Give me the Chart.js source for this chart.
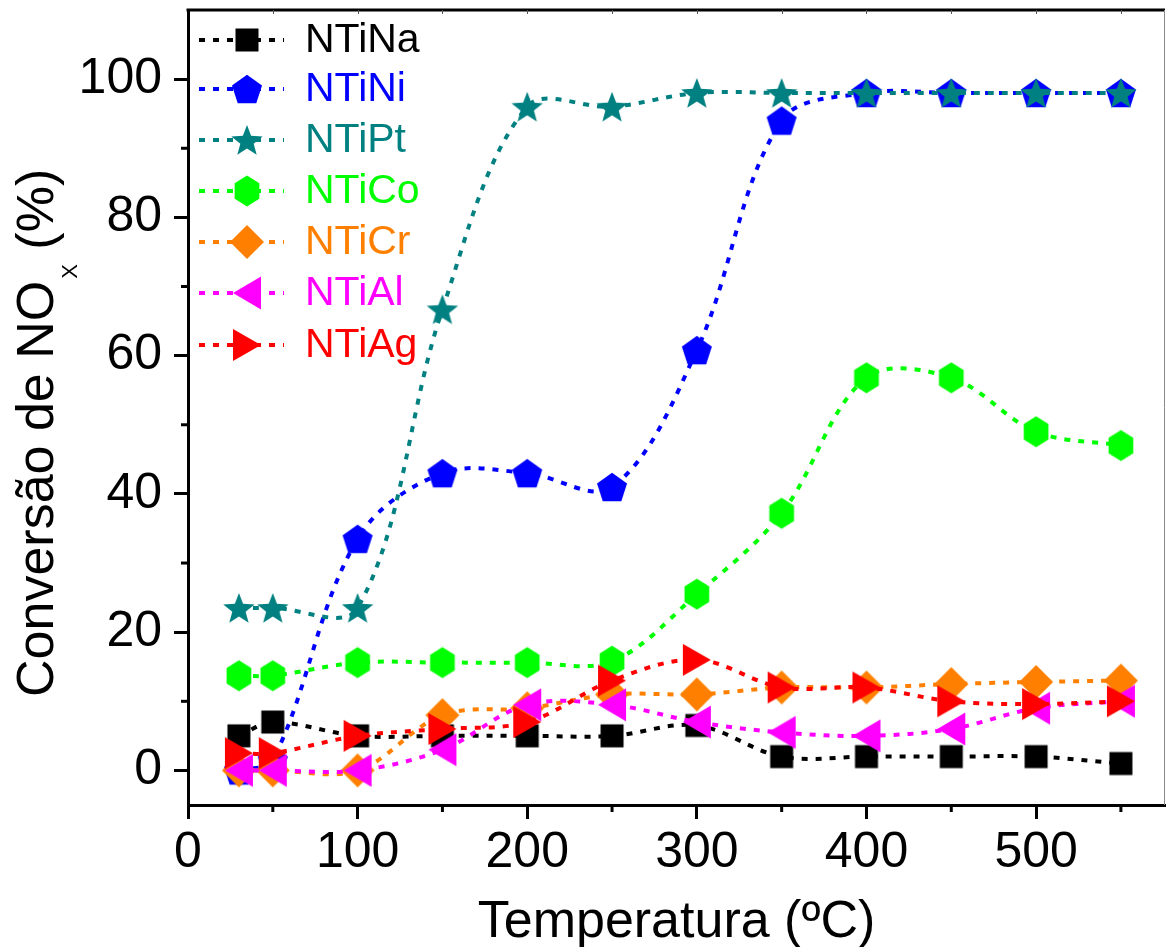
<!DOCTYPE html>
<html><head><meta charset="utf-8">
<script src="https://cdn.jsdelivr.net/npm/chart.js@4.4.1/dist/chart.umd.min.js"></script>
<style>html,body{margin:0;padding:0;background:#fff;}#wrap{width:1167px;height:947px;position:relative;}</style>
</head><body><div id="wrap"><canvas id="c" width="1167" height="947"></canvas></div>
<script>
// ---- data ----
const temperatures = [30, 50, 100, 150, 200, 250, 300, 350, 400, 450, 500, 550];
const seriesNames = ['NTiNa', 'NTiNi', 'NTiPt', 'NTiCo', 'NTiCr', 'NTiAl', 'NTiAg'];
const NTiNa = [5, 7, 5, 5, 5, 5, 6.5, 2, 2, 2, 2, 1];
const NTiNi = [0, 1.5, 33.5, 43, 43, 41, 60.8, 94, 98, 98, 98, 98];
const NTiPt = [23.5, 23.5, 23.5, 66.7, 96, 96, 98, 98, 98, 98, 98, 98];
const NTiCo = [13.7, 13.7, 15.6, 15.6, 15.6, 15.8, 25.5, 37.2, 56.8, 56.8, 49, 47];
const NTiCr = [0, 0, 0, 8, 9, 11, 11, 12, 12, 12.5, 12.8, 13];
const NTiAl = [0, 0, 0, 3, 9.5, 9.5, 7, 5.5, 5, 6, 9, 10];
const NTiAg = [2.5, 2.5, 5, 6, 7, 13, 16, 12, 12, 10, 9.6, 10];
const xTickValues = [0, 100, 200, 300, 400, 500];
const yTickValues = [0, 20, 40, 60, 80, 100];
const xMinorTicks = [50, 150, 250, 350, 450, 550];
const yMinorTicks = [10, 30, 50, 70, 90];
const xTitle = 'Temperatura (ºC)';
const yTitleMain = 'Conversão de NO';
const yTitleSub = 'X';
const yTitleEnd = ' (%)';

const seriesValues = [NTiNa, NTiNi, NTiPt, NTiCo, NTiCr, NTiAl, NTiAg];
const seriesColors = ['#000000', '#0000FF', '#008080', '#00FF00', '#FF8000', '#FF00FF', '#FF0000'];
const seriesShapes = ['square', 'pentagon', 'star', 'hexagon', 'diamond', 'triLeft', 'triRight'];

const FONT = '"Liberation Sans", Arial, sans-serif';

function makeMarker(shape, color) {
  const S = 40;
  const c = document.createElement('canvas');
  c.width = S; c.height = S;
  const g = c.getContext('2d');
  g.fillStyle = color;
  g.translate(S / 2, S / 2);
  g.beginPath();
  const poly = (pts) => { pts.forEach((p, i) => i ? g.lineTo(p[0], p[1]) : g.moveTo(p[0], p[1])); g.closePath(); };
  if (shape === 'square') {
    g.rect(-11.5, -11.5, 23, 23);
  } else if (shape === 'pentagon') {
    const r = 15.8, pts = [];
    for (let i = 0; i < 5; i++) { const a = (-90 + 72 * i) * Math.PI / 180; pts.push([r * Math.cos(a), r * Math.sin(a) + 1.5]); }
    poly(pts);
  } else if (shape === 'star') {
    const ro = 16.5, ri = 7, pts = [];
    for (let i = 0; i < 10; i++) { const a = (-90 + 36 * i) * Math.PI / 180; const r = i % 2 ? ri : ro; pts.push([r * Math.cos(a), r * Math.sin(a) + 1.5]); }
    poly(pts);
  } else if (shape === 'hexagon') {
    const r = 15.5, pts = [];
    for (let i = 0; i < 6; i++) { const a = (-90 + 60 * i) * Math.PI / 180; pts.push([r * Math.cos(a) * 0.92, r * Math.sin(a)]); }
    poly(pts);
  } else if (shape === 'diamond') {
    poly([[0, -17], [17, 0], [0, 17], [-17, 0]]);
  } else if (shape === 'triLeft') {
    poly([[-14, 0], [14, -16.5], [14, 16.5]]);
  } else if (shape === 'triRight') {
    poly([[14, 0], [-14, -16], [-14, 16]]);
  }
  g.fill();
  return c;
}

const markers = seriesShapes.map((s, i) => makeMarker(s, seriesColors[i]));
const DASH = [6, 8];

const datasets = seriesNames.map((name, i) => ({
  label: name,
  data: temperatures.map((t, k) => ({ x: t, y: seriesValues[i][k] })),
  borderColor: seriesColors[i],
  backgroundColor: seriesColors[i],
  borderWidth: 4,
  borderDash: DASH,
  tension: 0.35,
  pointStyle: markers[i],
  pointRadius: 15,
  pointHoverRadius: 15,
  order: seriesNames.length - 1 - i,
  clip: false
}));

const decorPlugin = {
  id: 'decor',
  afterDraw(chart) {
    const ctx = chart.ctx, ca = chart.chartArea;
    const xs = chart.scales.x, ys = chart.scales.y;
    ctx.save();
    // top & right frame
    ctx.strokeStyle = '#000'; ctx.lineWidth = 3;
    ctx.beginPath(); ctx.moveTo(ca.left - 1.5, ca.top); ctx.lineTo(ca.right, ca.top); ctx.stroke();
    ctx.strokeStyle = '#888'; ctx.lineWidth = 1;
    ctx.beginPath(); ctx.moveTo(ca.right - 0.5, ca.top); ctx.lineTo(ca.right - 0.5, ca.bottom); ctx.stroke();
    // top small inward ticks
    ctx.strokeStyle = '#555'; ctx.lineWidth = 1;
    [...xTickValues.slice(1), ...xMinorTicks].forEach(v => {
      const px = Math.round(xs.getPixelForValue(v)) + 0.5;
      ctx.beginPath(); ctx.moveTo(px, ca.top); ctx.lineTo(px, ca.top + 4); ctx.stroke();
    });
    // minor ticks
    ctx.strokeStyle = '#000'; ctx.lineWidth = 3;
    xMinorTicks.forEach(v => {
      const px = xs.getPixelForValue(v);
      ctx.beginPath(); ctx.moveTo(px, ca.bottom); ctx.lineTo(px, ca.bottom + 7); ctx.stroke();
    });
    yMinorTicks.forEach(v => {
      const py = ys.getPixelForValue(v);
      ctx.beginPath(); ctx.moveTo(ca.left, py); ctx.lineTo(ca.left - 7, py); ctx.stroke();
    });
    // legend
    const rowY = [40, 89, 140, 191, 242, 293, 345];
    seriesNames.forEach((name, i) => {
      const y = rowY[i];
      ctx.strokeStyle = seriesColors[i]; ctx.lineWidth = 4; ctx.setLineDash(DASH);
      ctx.beginPath(); ctx.moveTo(199, y); ctx.lineTo(284, y); ctx.stroke();
      ctx.setLineDash([]);
      ctx.drawImage(markers[i], 247 - 20, y - 20);
      ctx.fillStyle = seriesColors[i];
      ctx.font = '41px ' + FONT;
      ctx.textBaseline = 'middle'; ctx.textAlign = 'left';
      ctx.fillText(name, 305, y + 1);
    });
    // x title
    ctx.fillStyle = '#000';
    ctx.font = '52px ' + FONT;
    ctx.textAlign = 'center'; ctx.textBaseline = 'alphabetic';
    ctx.fillText(xTitle, (ca.left + ca.right) / 2, 937);
    // y title (rotated, with subscript)
    ctx.translate(53, 697);
    ctx.rotate(-Math.PI / 2);
    ctx.textAlign = 'left';
    ctx.font = '52px ' + FONT;
    ctx.fillText(yTitleMain, 0, 0);
    let w = ctx.measureText(yTitleMain).width;
    ctx.font = '22px ' + FONT;
    ctx.fillText(yTitleSub, w + 2, 24);
    w += ctx.measureText(yTitleSub).width + 2;
    ctx.font = '52px ' + FONT;
    ctx.fillText(yTitleEnd, w, 0);
    ctx.restore();
  }
};

function noPad(s) { s.paddingTop = 0; s.paddingBottom = 0; s.paddingLeft = 0; s.paddingRight = 0; }

new Chart(document.getElementById('c'), {
  type: 'line',
  data: { datasets },
  options: {
    responsive: false,
    animation: false,
    events: [],
    layout: { autoPadding: false, padding: { top: 10, right: 2, left: 0, bottom: 0 } },
    plugins: { legend: { display: false }, tooltip: { enabled: false } },
    scales: {
      x: {
        type: 'linear', min: 0, max: 576,
        afterBuildTicks: s => { s.ticks = xTickValues.map(v => ({ value: v })); },
        afterFit: s => { s.height = 142; noPad(s); },
        grid: { display: true, drawOnChartArea: false, drawTicks: true, tickLength: 14, tickWidth: 3, tickColor: '#000' },
        border: { display: true, color: '#000', width: 3 },
        ticks: { color: '#000', font: { family: FONT, size: 50 }, padding: 4, maxRotation: 0, autoSkip: false }
      },
      y: {
        type: 'linear', min: -5, max: 110,
        afterBuildTicks: s => { s.ticks = yTickValues.map(v => ({ value: v })); },
        afterFit: s => { s.width = 188; noPad(s); },
        grid: { display: true, drawOnChartArea: false, drawTicks: true, tickLength: 14, tickWidth: 3, tickColor: '#000' },
        border: { display: true, color: '#000', width: 3 },
        ticks: { color: '#000', font: { family: FONT, size: 50 }, padding: 12, autoSkip: false }
      }
    }
  },
  plugins: [decorPlugin]
});
</script>
</body></html>
